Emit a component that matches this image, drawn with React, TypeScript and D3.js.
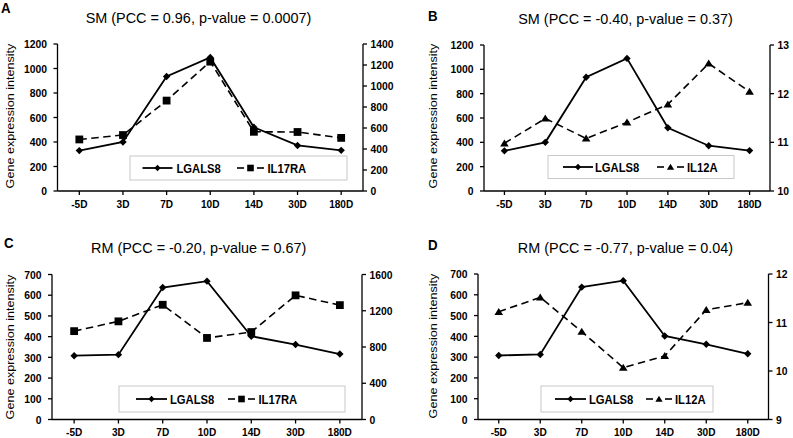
import React from 'react';
import * as d3 from 'd3';

// ---------- data ----------
const categories = ['-5D', '3D', '7D', '10D', '14D', '30D', '180D'];
const lgals8SM = [330, 400, 935, 1090, 520, 372, 332];
const il17raSM = [491, 533, 861, 1232, 564, 562, 506];
const il12aSM = [10.98, 11.49, 11.08, 11.41, 11.78, 12.62, 12.04];
const lgals8RM = [308, 313, 637, 668, 402, 362, 316];
const il17raRM = [975, 1083, 1266, 900, 965, 1370, 1262];
const il12aRM = [11.22, 11.52, 10.81, 10.07, 10.31, 11.26, 11.41];

const leftTicksSM = [0, 200, 400, 600, 800, 1000, 1200];
const leftTicksRM = [0, 100, 200, 300, 400, 500, 600, 700];
const rightTicksA = [0, 200, 400, 600, 800, 1000, 1200, 1400];
const rightTicksB = [10, 11, 12, 13];
const rightTicksC = [0, 400, 800, 1200, 1600];
const rightTicksD = [9, 10, 11, 12];

const panelLetters = ['A', 'B', 'C', 'D'];
const titles = [
  'SM (PCC = 0.96, p-value = 0.0007)',
  'SM (PCC = -0.40, p-value = 0.37)',
  'RM (PCC = -0.20, p-value = 0.67)',
  'RM (PCC = -0.77, p-value = 0.04)',
];
const seriesNames = ['LGALS8', 'IL17RA', 'IL12A'];
const yLabel = 'Gene expression intensity';

// ---------- layout ----------
type Marker = 'diamond' | 'square' | 'triangle';
interface Panel {
  letter: string; title: string;
  left: number; right: number; top: number; bottom: number;
  lTicks: number[]; rTicks: number[];
  lVals: number[]; rVals: number[];
  rName: string; rMarker: Marker;
  letterPos: [number, number]; titlePos: [number, number]; yLabelPos: [number, number];
  legend: { x: number; y: number; w: number; h: number; l1: [number, number]; t1: number; l2: [number, number]; t2: number };
}

const panels: Panel[] = [
  {
    letter: panelLetters[0], title: titles[0],
    left: 57.5, right: 363, top: 44, bottom: 191,
    lTicks: leftTicksSM, rTicks: rightTicksA, lVals: lgals8SM, rVals: il17raSM,
    rName: seriesNames[1], rMarker: 'square',
    letterPos: [1, 13], titlePos: [198.5, 23], yLabelPos: [10, 116],
    legend: { x: 130, y: 156, w: 217, h: 24, l1: [142.5, 172.5], t1: 176.5, l2: [237, 264], t2: 267.5 },
  },
  {
    letter: panelLetters[1], title: titles[1],
    left: 484, right: 770, top: 45, bottom: 191,
    lTicks: leftTicksSM, rTicks: rightTicksB, lVals: lgals8SM, rVals: il12aSM,
    rName: seriesNames[2], rMarker: 'triangle',
    letterPos: [428, 21], titlePos: [625.5, 23.5], yLabelPos: [433, 116],
    legend: { x: 548, y: 155.5, w: 186, h: 23, l1: [563, 593], t1: 595, l2: [657, 684], t2: 687 },
  },
  {
    letter: panelLetters[2], title: titles[2],
    left: 52, right: 362, top: 274.5, bottom: 419.5,
    lTicks: leftTicksRM, rTicks: rightTicksC, lVals: lgals8RM, rVals: il17raRM,
    rName: seriesNames[1], rMarker: 'square',
    letterPos: [4, 248], titlePos: [198.7, 253], yLabelPos: [10, 347],
    legend: { x: 119, y: 386, w: 226, h: 26, l1: [136, 167], t1: 170, l2: [228, 255], t2: 258.5 },
  },
  {
    letter: panelLetters[3], title: titles[3],
    left: 478, right: 768.5, top: 274, bottom: 419.5,
    lTicks: leftTicksRM, rTicks: rightTicksD, lVals: lgals8RM, rVals: il12aRM,
    rName: seriesNames[2], rMarker: 'triangle',
    letterPos: [428, 250], titlePos: [625.5, 253], yLabelPos: [433, 346],
    legend: { x: 541, y: 386, w: 172, h: 26, l1: [555, 586], t1: 589, l2: [646, 672], t2: 675 },
  },
];

const FONT = '"Liberation Sans", Arial, Helvetica, sans-serif';
const SX = 0.9;

function markerPath(type: Marker, x: number, y: number, s = 1): string {
  if (type === 'diamond') {
    const r = 3.7 * s;
    return `M${x},${y - r}L${x + r},${y}L${x},${y + r}L${x - r},${y}Z`;
  }
  if (type === 'square') {
    const r = 3.9 * s;
    return `M${x - r},${y - r}H${x + r}V${y + r}H${x - r}Z`;
  }
  const w = 4.3 * s, h = 3.9 * s;
  return `M${x},${y - h}L${x + w},${y + h * 0.8}L${x - w},${y + h * 0.8}Z`;
}

const Txt: React.FC<{ x: number; y: number; size: number; anchor?: string; weight?: string | number; sx?: number; dy?: string; children: React.ReactNode }> = ({ x, y, size, anchor = 'start', weight = 'bold', sx = SX, dy, children }) => (
  <text transform={`translate(${x},${y}) scale(${sx},1)`} textAnchor={anchor as any} fontSize={size} fontWeight={weight} dy={dy} fill="#000" fontFamily={FONT}>
    {children}
  </text>
);

const PanelChart: React.FC<{ p: Panel }> = ({ p }) => {
  const x = d3.scaleBand<string>().domain(categories).range([p.left, p.right]).padding(0);
  const cx = (c: string) => (x(c) as number) + x.bandwidth() / 2;
  const yL = d3.scaleLinear().domain([p.lTicks[0], p.lTicks[p.lTicks.length - 1]]).range([p.bottom, p.top]);
  const yR = d3.scaleLinear().domain([p.rTicks[0], p.rTicks[p.rTicks.length - 1]]).range([p.bottom, p.top]);
  const lineL = d3.line<number>().x((_, i) => cx(categories[i])).y(d => yL(d));
  const lineR = d3.line<number>().x((_, i) => cx(categories[i])).y(d => yR(d));
  const lg = p.legend;
  const ly = lg.y + lg.h / 2;
  const m2 = (lg.l2[0] + lg.l2[1]) / 2;

  return (
    <g>
      <Txt x={p.letterPos[0]} y={p.letterPos[1]} size={14} sx={0.95}>{p.letter}</Txt>
      <Txt x={p.titlePos[0]} y={p.titlePos[1]} size={15.5} anchor="middle" weight="normal" sx={0.93}>{p.title}</Txt>
      <text transform={`translate(${p.yLabelPos[0]},${p.yLabelPos[1]}) rotate(-90) scale(1,0.9)`} textAnchor="middle" dominantBaseline="central" fontSize={12.6} fontFamily={FONT} fill="#000">{yLabel}</text>

      {/* axes */}
      <g stroke="#000" strokeWidth={1.3} fill="none">
        <line x1={p.left} x2={p.left} y1={p.top} y2={p.bottom} />
        <line x1={p.right} x2={p.right} y1={p.top} y2={p.bottom} />
        <line x1={p.left} x2={p.right} y1={p.bottom} y2={p.bottom} />
        {p.lTicks.map(t => <line key={'l' + t} x1={p.left - 4} x2={p.left} y1={yL(t)} y2={yL(t)} />)}
        {p.rTicks.map(t => <line key={'r' + t} x1={p.right} x2={p.right + 4} y1={yR(t)} y2={yR(t)} />)}
        {categories.map(c => <line key={'x' + c} x1={cx(c)} x2={cx(c)} y1={p.bottom} y2={p.bottom + 4} />)}
      </g>
      {p.lTicks.map(t => <Txt key={'lt' + t} x={p.left - 10.5} y={yL(t)} size={11.5} anchor="end" dy="0.36em">{t}</Txt>)}
      {p.rTicks.map(t => <Txt key={'rt' + t} x={p.right + 7.5} y={yR(t)} size={11.5} dy="0.36em">{t}</Txt>)}
      {categories.map(c => <Txt key={'ct' + c} x={cx(c)} y={p.bottom + 16.5} size={11.2} anchor="middle">{c}</Txt>)}

      {/* legend */}
      <rect x={lg.x} y={lg.y} width={lg.w} height={lg.h} fill="#fff" stroke="#c8c8c8" strokeWidth={1} />

      {/* series */}
      <path d={lineR(p.rVals) || ''} fill="none" stroke="#000" strokeWidth={1.6} strokeDasharray="7.5,4.5" />
      <path d={lineL(p.lVals) || ''} fill="none" stroke="#000" strokeWidth={1.8} />
      {p.rVals.map((v, i) => <path key={'mr' + i} d={markerPath(p.rMarker, cx(categories[i]), yR(v))} fill="#000" />)}
      {p.lVals.map((v, i) => <path key={'ml' + i} d={markerPath('diamond', cx(categories[i]), yL(v))} fill="#000" />)}

      <line x1={lg.l1[0]} x2={lg.l1[1]} y1={ly} y2={ly} stroke="#000" strokeWidth={1.8} />
      <path d={markerPath('diamond', (lg.l1[0] + lg.l1[1]) / 2, ly, 0.85)} fill="#000" />
      <Txt x={lg.t1} y={ly} size={12.5} dy="0.36em">{seriesNames[0]}</Txt>
      <line x1={lg.l2[0]} x2={lg.l2[0] + 7} y1={ly} y2={ly} stroke="#000" strokeWidth={1.6} />
      <line x1={lg.l2[1] - 7} x2={lg.l2[1]} y1={ly} y2={ly} stroke="#000" strokeWidth={1.6} />
      <path d={markerPath(p.rMarker, m2, ly, 0.85)} fill="#000" />
      <Txt x={lg.t2} y={ly} size={12.5} dy="0.36em">{p.rName}</Txt>
    </g>
  );
};

export default function App() {
  return (
    <svg width={793} height={438} viewBox="0 0 793 438" style={{ position: 'absolute', left: 0, top: 0, background: '#fff' }} fontFamily={FONT}>
      <rect x={0} y={0} width={793} height={438} fill="#fff" />
      {panels.map(p => <PanelChart key={p.letter} p={p} />)}
    </svg>
  );
}
